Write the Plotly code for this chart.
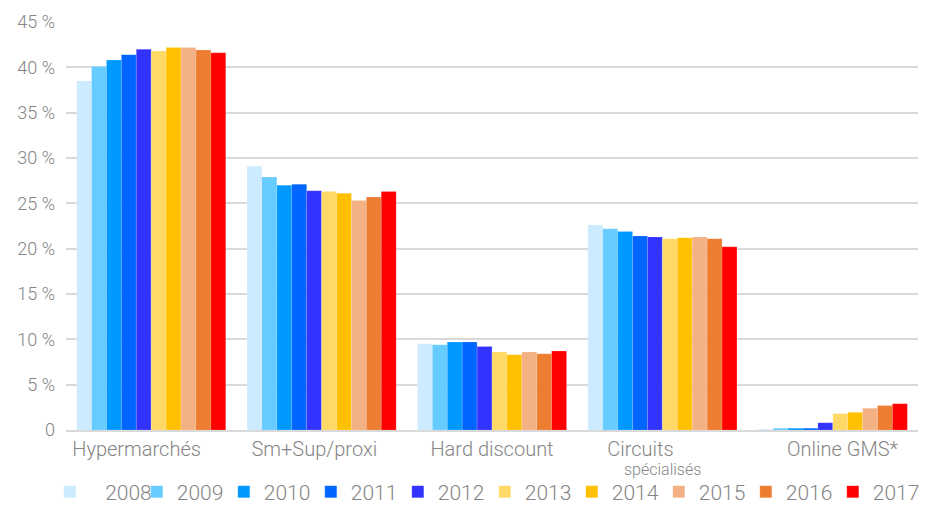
import plotly.graph_objects as go

# Parts de marché par circuit (en %)
nb = '\u00a0'
circuits = ['Hypermarchés' + nb * 6, 'Sm+Sup/proxi' + nb * 3, 'Hard discount',
            'Circuits' + nb * 9, nb * 4 + 'Online GMS*']
sous_titre = 'spécialisés'
annees = ['2008', '2009', '2010', '2011', '2012', '2013', '2014', '2015', '2016', '2017']

v2008 = [38.5, 29.1, 9.5, 22.6, 0.1]
v2009 = [40.1, 27.9, 9.4, 22.2, 0.2]
v2010 = [40.8, 27.0, 9.7, 21.9, 0.2]
v2011 = [41.4, 27.1, 9.7, 21.4, 0.2]
v2012 = [42.0, 26.4, 9.2, 21.3, 0.8]
v2013 = [41.8, 26.3, 8.6, 21.1, 1.8]
v2014 = [42.2, 26.1, 8.3, 21.2, 1.95]
v2015 = [42.2, 25.3, 8.6, 21.3, 2.4]
v2016 = [41.9, 25.7, 8.4, 21.1, 2.7]
v2017 = [41.6, 26.3, 8.7, 20.2, 2.9]
valeurs = [v2008, v2009, v2010, v2011, v2012, v2013, v2014, v2015, v2016, v2017]

couleurs = ['#CCEBFF', '#66CCFF', '#0099FF', '#0066FF', '#3333FF',
            '#FFD966', '#FFC000', '#F4B183', '#ED7D31', '#FF0000']

graduations = [0, 5, 10, 15, 20, 25, 30, 35, 40, 45]
etiquettes = ['0', '5 %', '10 %', '15 %', '20 %', '25 %', '30 %', '35 %', '40 %', '45 %']

gris = '#858585'
police = 'Roboto'

fig = go.Figure()
for i, annee in enumerate(annees):
    nom = nb * 3 + annee if i == 0 else annee
    fig.add_trace(go.Bar(
        x=circuits,
        y=valeurs[i],
        name=nom,
        marker=dict(color=couleurs[i], line=dict(color='rgba(255,255,255,0.25)', width=0.6)),
    ))

# deuxième ligne, plus petite, sous "Circuits"
fig.add_annotation(
    x=circuits[3], y=0, xref='x', yref='y',
    text=sous_titre, showarrow=False,
    yanchor='middle', yshift=-39,
    font=dict(size=16, family=police, color=gris, weight=300),
)

# la page a une marge de 8 px : on compense dans les marges
fig.update_layout(
    width=929,
    height=505,
    barmode='group',
    bargap=0.125,
    bargroupgap=0,
    plot_bgcolor='white',
    paper_bgcolor='rgba(0,0,0,0)',
    font=dict(family=police, color=gris, size=18, weight=300),
    margin=dict(l=58, r=19, t=14, b=83, autoexpand=False),
    xaxis=dict(
        showgrid=False,
        showline=True,
        linecolor='#d9d9d9',
        linewidth=2,
        ticks='',
        automargin=False,
        tickfont=dict(size=20, family=police, color=gris, weight=300),
    ),
    yaxis=dict(
        range=[0, 45],
        tickvals=graduations,
        ticktext=etiquettes,
        showgrid=True,
        gridcolor='#d9d9d9',
        gridwidth=1.5,
        zeroline=False,
        ticks='',
        automargin=False,
        ticklabelstandoff=10,
        tickfont=dict(size=18, family=police, color=gris, weight=300),
    ),
    legend=dict(
        orientation='h',
        x=-0.019,
        xanchor='left',
        y=-0.152,
        yanchor='middle',
        bgcolor='rgba(0,0,0,0)',
        font=dict(size=21, family=police, color=gris, weight=300),
        entrywidth=42,
        entrywidthmode='pixels',
        itemwidth=30,
        traceorder='normal',
    ),
)

fig.write_html('out.html')
